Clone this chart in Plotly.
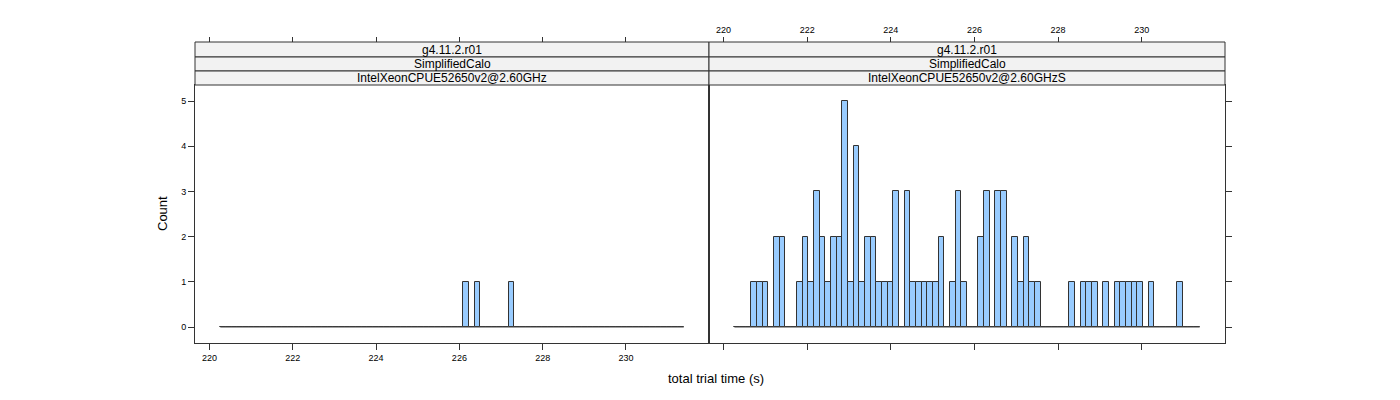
import plotly.graph_objects as go

# ---- data ----
bin_start = 220.26
bin_width = 0.1357
n_bins = 82

panel_titles = [
    ["g4.11.2.r01", "SimplifiedCalo", "IntelXeonCPUE52650v2@2.60GHz"],
    ["g4.11.2.r01", "SimplifiedCalo", "IntelXeonCPUE52650v2@2.60GHzS"],
]

# counts per bin (82 bins)
counts_left = [0] * 43 + [1, 0, 1, 0, 0, 0, 0, 0, 1] + [0] * 30
counts_right = [
    0, 0, 0, 1, 1, 1, 0, 2, 2, 0,
    0, 1, 2, 1, 3, 2, 1, 2, 2, 5,
    1, 4, 1, 2, 2, 1, 1, 1, 3, 0,
    3, 1, 1, 1, 1, 1, 2, 0, 1, 3,
    1, 0, 0, 2, 3, 0, 3, 3, 0, 2,
    1, 2, 1, 1, 0, 0, 0, 0, 0, 1,
    0, 1, 1, 1, 0, 1, 0, 1, 1, 1,
    1, 1, 0, 1, 0, 0, 0, 0, 1, 0,
    0, 0,
]

x_ticks = [220, 222, 224, 226, 228, 230]
y_ticks = [0, 1, 2, 3, 4, 5]
x_range = [219.652, 231.993]
y_range = [-0.354, 5.354]

xlab = "total trial time (s)"
ylab = "Count"

# ---- layout geometry (pixels) ----
W, H = 1400, 400
FONT = "Liberation Sans, Arial, Helvetica, sans-serif"
LINE = "#333333"
FILL = "#99CCFF"

def fx(p):
    return p / W

def fy(p):
    return 1 - p / H

panels_px = [(195, 709), (709, 1225)]
plot_top, plot_bot = 85, 343
strip_rows = [42, 57, 71, 85]

centers = [bin_start + (i + 0.5) * bin_width for i in range(n_bins)]
edges = [bin_start, bin_start + n_bins * bin_width]

fig = go.Figure()

for k, counts in enumerate([counts_left, counts_right]):
    xa = "x" if k == 0 else "x2"
    ya = "y" if k == 0 else "y2"
    fig.add_trace(go.Scatter(
        x=edges, y=[0, 0], mode="lines", xaxis=xa, yaxis=ya,
        line=dict(color="#444444", width=1), hoverinfo="skip", showlegend=False))
    fig.add_trace(go.Bar(
        x=centers, y=counts, width=bin_width, xaxis=xa, yaxis=ya,
        marker=dict(color=FILL, line=dict(color=LINE, width=1)),
        showlegend=False))

# dummy traces so the top axes are drawn
fig.add_trace(go.Scatter(x=[bin_start], y=[0], xaxis="x3", yaxis="y", mode="markers",
                         marker=dict(opacity=0), hoverinfo="skip", showlegend=False))
fig.add_trace(go.Scatter(x=[bin_start], y=[0], xaxis="x4", yaxis="y2", mode="markers",
                         marker=dict(opacity=0), hoverinfo="skip", showlegend=False))

ydom = [fy(plot_bot), fy(plot_top)]
common_x = dict(range=x_range, tickvals=x_ticks, ticks="outside", ticklen=6,
                tickcolor=LINE, showgrid=False, zeroline=False,
                tickfont=dict(size=9, color="black", family=FONT))
common_y = dict(range=y_range, tickvals=y_ticks, ticks="outside", ticklen=6,
                tickcolor=LINE, showgrid=False, zeroline=False, domain=ydom,
                showline=True, mirror=True, linecolor=LINE, linewidth=1,
                tickfont=dict(size=9, color="black", family=FONT))

fig.update_layout(
    width=W, height=H,
    margin=dict(l=0, r=0, t=0, b=0),
    paper_bgcolor="white", plot_bgcolor="white",
    bargap=0,
    font=dict(family=FONT, color="black"),
    xaxis=dict(domain=[fx(panels_px[0][0]), fx(panels_px[0][1])], anchor="y",
               showline=True, mirror=True, linecolor=LINE, linewidth=1, **common_x),
    yaxis=dict(anchor="x", side="left", **common_y),
    xaxis2=dict(domain=[fx(panels_px[1][0]), fx(panels_px[1][1])], anchor="y2",
                showline=True, mirror=True, linecolor=LINE, linewidth=1,
                showticklabels=False, **common_x),
    yaxis2=dict(anchor="x2", side="right", showticklabels=False, **common_y),
    xaxis3=dict(overlaying="x", side="top", anchor="free", position=fy(strip_rows[0]),
                showline=False, showticklabels=False, **common_x),
    xaxis4=dict(overlaying="x2", side="top", anchor="free", position=fy(strip_rows[0]),
                showline=False, showticklabels=True, **common_x),
)
fig.layout.xaxis3.ticklen = 5
fig.layout.xaxis4.ticklen = 5

shapes = []
annotations = []
for k, (x0, x1) in enumerate(panels_px):
    for r in range(3):
        y0, y1 = strip_rows[r], strip_rows[r + 1]
        shapes.append(dict(type="rect", xref="paper", yref="paper",
                           x0=fx(x0), x1=fx(x1), y0=fy(y1), y1=fy(y0),
                           fillcolor="#F2F2F2", line=dict(color=LINE, width=1),
                           layer="above"))
        annotations.append(dict(text=panel_titles[k][r], xref="paper", yref="paper",
                                x=fx((x0 + x1) / 2), y=fy((y0 + y1) / 2),
                                showarrow=False, xanchor="center", yanchor="middle",
                                font=dict(size=12, family=FONT, color="black")))

annotations.append(dict(text=xlab, xref="paper", yref="paper", x=fx(716), y=fy(378),
                        showarrow=False, xanchor="center", yanchor="middle",
                        font=dict(size=13, family=FONT, color="black")))
annotations.append(dict(text=ylab, xref="paper", yref="paper", x=fx(162), y=fy(214),
                        showarrow=False, xanchor="center", yanchor="middle", textangle=-90,
                        font=dict(size=13, family=FONT, color="black")))

fig.update_layout(shapes=shapes, annotations=annotations)

fig.write_html("out.html")
